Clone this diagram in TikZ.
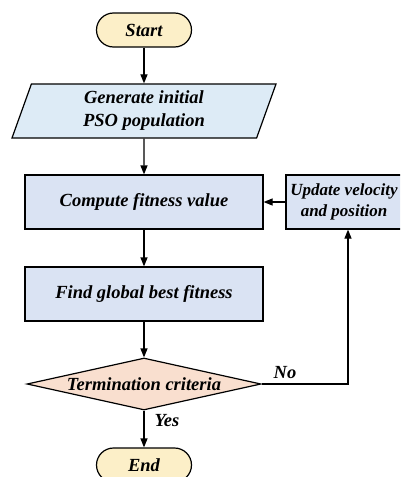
\documentclass[tikz,border=0pt]{standalone}
\usepackage{fontspec}
\setmainfont{Liberation Serif}
\usetikzlibrary{shapes.geometric,arrows.meta}
\definecolor{termfill}{HTML}{FCEFC8}
\definecolor{iofill}{HTML}{DDEBF6}
\definecolor{procfill}{HTML}{DAE3F3}
\definecolor{decfill}{HTML}{F9DFCF}
\tikzset{
  txt/.style={font=\fontsize{18.5}{20}\selectfont\bfseries\itshape},
  base/.style={txt, draw=black, line width=1.2pt, align=center, inner sep=0pt},
  terminal/.style={base, fill=termfill, rounded corners=17pt, minimum width=95pt, minimum height=34pt},
  iobox/.style={base, fill=iofill, trapezium, trapezium left angle=64, trapezium right angle=116,
    trapezium stretches body, minimum height=54pt, minimum width=264pt},
  procbox/.style={base, fill=procfill, minimum width=238pt, minimum height=54pt},
  sidebox/.style={base, fill=procfill, minimum width=124pt, minimum height=54pt},
  sidetext/.style={font=\fontsize{17}{19}\selectfont\bfseries\itshape, align=center, inner sep=0pt},
  decision/.style={base, fill=decfill, diamond, aspect=4.5, minimum width=234pt, minimum height=52pt},
  flow/.style={line width=1.2pt, -{Triangle[length=9pt,width=7pt]}},
  lbl/.style={txt, inner sep=0pt}
}
\begin{document}
\begin{tikzpicture}[x=1pt,y=-1pt]
\useasboundingbox (0,0) rectangle (400,477);
\clip (0,0) rectangle (400,477);
\node[terminal] (start) at (144,30) {Start};
\node[iobox] (init) at (144,111) {Generate initial\\[3pt]PSO population};
\node[procbox] (fit) at (144,202) {Compute fitness value};
\node[sidebox] (upd) at (348,202) {};
\node[sidetext] (updtext) at (344,202) {Update velocity\\[2pt]and position};
\node[procbox] (best) at (144,294) {Find global best fitness};
\node[decision] (term) at (144,384) {Termination criteria};
\node[terminal] (end) at (144,465) {End};
\coordinate (corner) at (348,384);
\draw[flow] (start) -- (init);
\draw[flow] (init) -- (fit);
\draw[flow] (fit) -- (best);
\draw[flow] (best) -- (term);
\draw[flow] (term) -- (end);
\draw[flow] (upd) -- (fit);
\draw[flow] (term.east) -- (corner) -- (upd.south);
\node[lbl] (no) at (285,373) {No};
\node[lbl] (yes) at (167,421) {Yes};
\end{tikzpicture}
\end{document}
